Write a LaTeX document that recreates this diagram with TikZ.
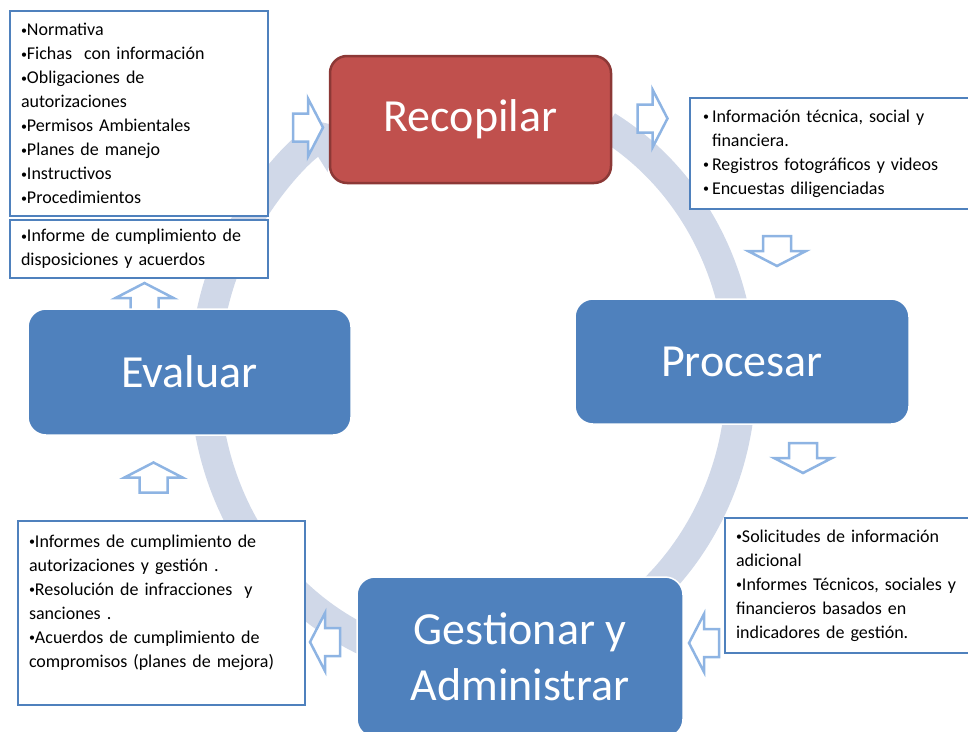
\documentclass[tikz,border=0pt]{standalone}
\usepackage{fontspec}
\usepackage{xcolor}
\setmainfont{Carlito}
\usetikzlibrary{arrows.meta}

\definecolor{ringgray}{HTML}{D0D8E8}
\definecolor{stageblue}{HTML}{4F81BD}
\definecolor{stagered}{HTML}{C0504D}
\definecolor{redline}{HTML}{8C3836}
\definecolor{arrowblue}{HTML}{8EB4E3}

\newcommand{\dotb}{\raisebox{1.5pt}{\fontsize{12}{12}\selectfont•}}

\begin{document}
\begin{tikzpicture}
            [x=1pt, y=-1pt,
            stage/.style={rectangle, rounded corners=18pt, fill=stageblue, draw=white, line width=1.5pt,
                text=white, align=center, font=\fontsize{46}{56}\selectfont},
            infobox/.style={rectangle, draw=stageblue, line width=2.5pt, fill=white, align=left,
                inner xsep=11pt, font=\fontsize{18}{24}\selectfont},
            hollow/.style={draw=arrowblue, line width=2.5pt, fill=white, line join=miter},
            blockarr/.pic={\path[hollow] (-15,-14) -- (0,-14) -- (0,-29) -- (15,0) -- (0,29) -- (0,14) -- (-15,14) -- cycle;}]

            \useasboundingbox (0,0) rectangle (968,731);
            \clip (0,0) rectangle (968,731);

            % ring behind everything
            \draw[ringgray, line width=30pt, -{Triangle[length=34pt,width=64pt]}]
                (607,126) arc[start angle=-60, end angle=240, x radius=268, y radius=289];

            % hollow arrows
            \pic at (308,127.5) {blockarr};
            \pic at (652.5,118.5) {blockarr};
            \pic[rotate=-90] at (777,251) {blockarr};
            \pic[rotate=-90] at (803,458) {blockarr};
            \pic[rotate=180] at (704,643) {blockarr};
            \pic[rotate=180] at (325,642) {blockarr};
            \pic[rotate=90] at (153.5,477.5) {blockarr};
            \pic[rotate=90] at (144.5,298) {blockarr};

            \node[stage, fill=stagered, draw=redline, line width=2.5pt, rounded corners=17pt,
                minimum width=281pt, minimum height=127pt] (recopilar) at (470.5,119.5) {Recopilar};
            \node[stage, minimum width=334pt, minimum height=125pt] (procesar) at (742,361.5) {Procesar};
            \node[stage, minimum width=323pt, minimum height=126pt] (evaluar) at (189.5,372) {Evaluar};
            \node[stage, minimum width=326pt, minimum height=160pt] (gestionar) at (520,657) {Gestionar y\\Administrar};

            \node[infobox, text width=236pt, minimum height=205pt] (fuentes) at (139,113.5)
                {\dotb Normativa\\\dotb Fichas\ \ con información\\\dotb Obligaciones de\\autorizaciones\\\dotb Permisos Ambientales\\\dotb Planes de manejo\\\dotb Instructivos\\\dotb Procedimientos};
            \node[infobox, text width=236pt, minimum height=58pt] (informe) at (139,249)
                {\dotb Informe de cumplimiento de\\disposiciones y acuerdos};
            \node[infobox, text width=274pt, inner xsep=13pt, minimum height=111pt] (datos) at (840,153.5)
                {\makebox[9pt][l]{\dotb}Información técnica, social y\\\hspace*{9pt}financiera.\\\makebox[9pt][l]{\dotb}Registros fotográficos y videos\\\makebox[9pt][l]{\dotb}Encuestas diligenciadas};
            \node[infobox, text width=265pt, minimum height=184pt] (acciones) at (161.5,613)
                {\dotb Informes de cumplimiento de\\autorizaciones y gestión .\\\dotb Resolución de infracciones\ \ y\\sanciones .\\\dotb Acuerdos de cumplimiento de\\compromisos (planes de mejora)\\~};
            \node[infobox, text width=253pt, minimum height=135pt] (reportes) at (862.5,585.5)
                {\dotb Solicitudes de información\\adicional\\\dotb Informes Técnicos, sociales y\\financieros basados en\\indicadores de gestión.};
\end{tikzpicture}
\end{document}
